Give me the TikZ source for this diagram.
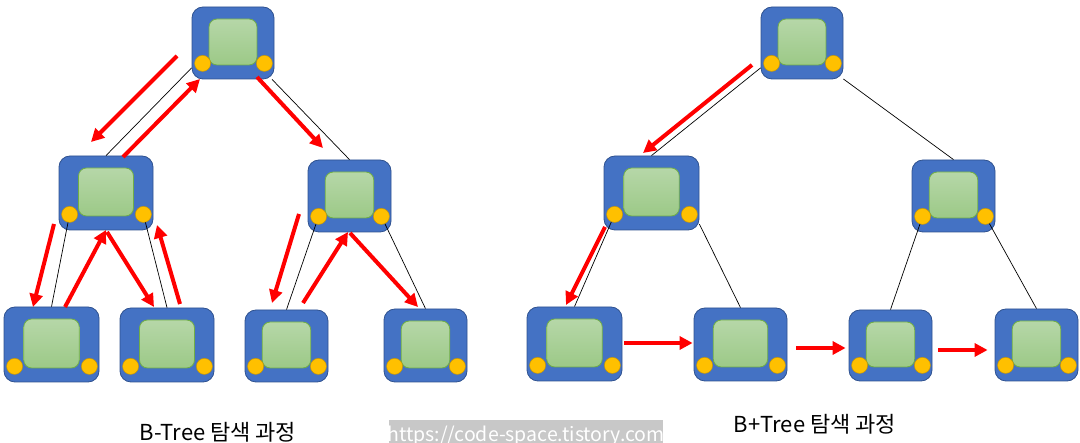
\documentclass[tikz,border=0pt]{standalone}
\usepackage{fontspec}
\setmainfont{Noto Sans CJK KR}
\usetikzlibrary{arrows.meta,calc}
\definecolor{nodeblue}{HTML}{4472C4}
\definecolor{nodeedge}{HTML}{2F528F}
\definecolor{panetop}{HTML}{B6D7A8}
\definecolor{panebot}{HTML}{9CC987}
\definecolor{paneedge}{HTML}{70AD47}
\definecolor{boltfill}{HTML}{FFC000}
\definecolor{boltedge}{HTML}{C99700}
\definecolor{markgray}{HTML}{C8C8C8}

\begin{document}
\begin{tikzpicture}[x=1pt, y=-1pt,
  box/.style={draw=nodeedge, line width=0.8pt, fill=nodeblue, rounded corners=11pt, inner sep=0pt},
  pane/.style={draw=paneedge, line width=0.8pt, top color=panetop, bottom color=panebot, rounded corners=8pt, inner sep=0pt},
  bolt/.style={circle, draw=boltedge, line width=0.5pt, fill=boltfill, minimum size=16pt, inner sep=0pt},
  link/.style={line width=0.7pt, black},
  hop/.style={red, line width=4pt, -{Triangle[length=13pt, width=13pt]}},
  caption/.style={font=\fontsize{22pt}{26pt}\selectfont, inner sep=0pt, anchor=base}]
\useasboundingbox (0,0) rectangle (1080,443);

\foreach \n/\x/\y/\w/\h in {lr/233/43/82/72, ll/106/193/94/74, lm/349.5/196/83/72,
    la/51.5/344.5/95/75, lb/167/345/94/74, lc/286.5/346/83/72, ld/425.5/345.5/83/73,
    rr/802/43/82/72, rl/651.5/193/95/74, rm/953.5/196/83/72,
    ra/574.5/344/95/74, rb/740.5/344.5/93/73, rc/890.5/345.5/83/71, rd/1036.5/345/83/72}{
  \pgfmathsetmacro\iw{0.585*\w}
  \pgfmathsetmacro\ih{\h-26}
  \node[box, minimum width=\w pt, minimum height=\h pt] (\n) at (\x,\y) {};
  \node[pane, minimum width=\iw pt, minimum height=\ih pt] (\n-pane) at ([yshift=1pt]\n.center) {};
  \node[bolt] (\n-l) at ([shift={(11,-16)}]\n.south west) {};
  \node[bolt] (\n-r) at ([shift={(-10,-16)}]\n.south east) {};
}

\draw[link] (lr.211) -- (ll.north);
\draw[link] (lr.317) -- (lm.north);
\draw[link] (ll-l) -- (la.north);
\draw[link] (ll-r) -- (lb.north);
\draw[link] (lm-l) -- (lc.north);
\draw[link] (lm-r) -- (ld.north);
\draw[link] (rr.211) -- (rl.north);
\draw[link] (rr.319) -- (rm.north);
\draw[link] (rl-l) -- (ra.north);
\draw[link] (rl.327) -- (rb.north);
\draw[link] (rm-l) -- (rc.north);
\draw[link] (rm-r) -- (rd.north);

\draw[hop] ($(lr.center)+(-56,13)$) -- ($(ll.center)+(-15,-51)$);
\draw[hop] ($(ll.center)+(17,-36)$) -- ($(lr.center)+(-33,36)$);
\draw[hop] ($(lr.center)+(24,34)$) -- ($(lm.center)+(-26.5,-48)$);
\draw[hop] ($(ll.center)+(-52,31)$) -- ($(la.center)+(-18.5,-37.5)$);
\draw[hop] ($(la.center)+(13.5,-37.5)$) -- ($(ll.center)+(0,37)$);
\draw[hop] ($(ll.center)+(1,39)$) -- ($(lb.center)+(-13,-38)$);
\draw[hop] ($(lb.center)+(13,-41)$) -- ($(ll.center)+(51,32)$);
\draw[hop] ($(lm.center)+(-50.5,18)$) -- ($(lc.center)+(-14.5,-43)$);
\draw[hop] ($(lc.center)+(16.5,-43)$) -- ($(lm.center)+(-1.5,36)$);
\draw[hop] ($(lm.center)+(0.5,37)$) -- ($(ld.center)+(-7.5,-38.5)$);

\draw[hop] ($(rr.center)+(-50,22)$) -- ($(rl.center)+(-8.5,-40)$);
\draw[hop] ($(rl.center)+(-46.5,34)$) -- ($(ra.center)+(-8.5,-39)$);
\draw[hop] ($(ra.east)+(2,-1)$) -- ($(rb.west)+(-1,-1.5)$);
\draw[hop] ($(rb.east)+(9,3.5)$) -- ($(rc.west)+(-3,2.5)$);
\draw[hop] ($(rc.east)+(6,4.5)$) -- ($(rd.west)+(-7,5)$);

\node[caption] (bcap) at (218,441) {B-Tree 탐색 과정};
\node[caption] (bpcap) at (815,433) {B+Tree 탐색 과정};

\fill[markgray] (389,420) rectangle (663,443);
\node[caption, font=\fontsize{19.5pt}{24pt}\selectfont, text=white] (mark) at (526,442) {https://code-space.tistory.com};
\end{tikzpicture}
\end{document}
